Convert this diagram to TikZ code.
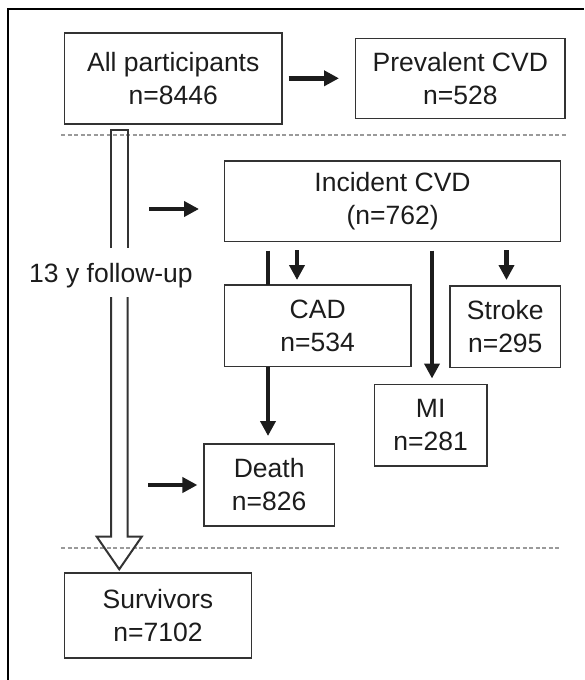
\documentclass[tikz,border=0pt]{standalone}
\usepackage{fontspec}
\setmainfont{Liberation Sans}
\usetikzlibrary{arrows.meta,calc}
\definecolor{txt}{HTML}{1C1C1C}
\definecolor{edge}{HTML}{333333}
\definecolor{dash}{HTML}{9A9A9A}
\tikzset{
  box/.style={draw=edge, line width=1.5pt, rectangle, inner sep=0pt, outer sep=0pt,
    align=center, text=txt, font=\fontsize{26.5}{33}\selectfont},
  thick arr/.style={draw=txt, line width=4.5pt, -{Triangle[length=15pt,width=15pt]}},
  thick line/.style={draw=txt, line width=4.5pt},
  hollow/.style={draw=edge, line width=2pt, line join=miter},
  sepline/.style={draw=dash, line width=1.5pt, dash pattern=on 4pt off 2.5pt},
}
\begin{document}
\begin{tikzpicture}[x=1pt,y=-1pt]
\useasboundingbox (0,0) rectangle (584,680);
% outer frame
\draw[black, line width=2.5pt] (8,680) -- (8,9) -- (584,9);

% boxes
\node[box, minimum width=217.5pt, minimum height=91pt] (all) at (173.25,78.5) {All participants\\n=8446};
\node[box, minimum width=209.3pt, minimum height=80pt] (prev) at (460.35,78.3) {Prevalent CVD\\n=528};
\node[box, minimum width=335.9pt, minimum height=80.7pt] (inc) at (392.55,201.35) {Incident CVD\\(n=762)};
\node[box, minimum width=186.2pt, minimum height=81.7pt] (cad) at (317.7,325.85) {CAD\\n=534};
\node[box, minimum width=110.5pt, minimum height=81.7pt] (stroke) at (505.25,326.85) {Stroke\\n=295};
\node[box, minimum width=112.7pt, minimum height=81.5pt] (mi) at (430.65,425.25) {MI\\n=281};
\node[box, minimum width=130.3pt, minimum height=82pt] (death) at (269.15,485) {Death\\n=826};
\node[box, minimum width=186.9pt, minimum height=85pt] (surv) at (157.95,615.5) {Survivors\\n=7102};
\node[text=txt, font=\fontsize{26.5}{33}\selectfont, inner sep=0pt] (fu) at (111,276) {13 y follow-up};

% dashed separators
\coordinate (d1a) at (61,135);
\coordinate (d1b) at (566,135);
\coordinate (d2a) at (61,548);
\coordinate (d2b) at (561,548);
\draw[sepline] (d1a) -- (d1b);
\draw[sepline] (d2a) -- (d2b);

% hollow follow-up arrow
\coordinate (ft) at (119.25,130);
\coordinate (ftip) at (119.25,569.3);
\draw[hollow] ($(ft)+(-8.25,118)$) -- ($(ft)+(-8.25,0)$) -- ($(ft)+(8.25,0)$) -- ($(ft)+(8.25,118)$);
\draw[hollow] ($(ft)+(-8.25,167)$) -- ($(ftip)+(-8.25,-32.6)$) -- ($(ftip)+(-22.5,-32.6)$) -- (ftip)
  -- ($(ftip)+(22.5,-32.6)$) -- ($(ftip)+(8.25,-32.6)$) -- ($(ft)+(8.25,167)$);

% arrows
\draw[thick arr, shorten <=6.6pt, shorten >=16.7pt] (all.east |- prev.west) -- (prev.west);
\coordinate (a1) at (149,209);
\draw[thick arr, shorten >=25.6pt] (a1) -- (inc.west |- a1);
\coordinate (a2) at (148,485);
\draw[thick arr, shorten >=6.6pt] (a2) -- (death.west |- a2);

\draw[thick line, shorten <=9pt] (inc.south -| 268,0) -- (cad.north -| 268,0);
\draw[thick arr, shorten >=8pt] (cad.south -| 268,0) -- (death.north -| 268,0);
\draw[thick arr, shorten <=8.5pt, shorten >=5pt] (inc.south -| 297,0) -- (cad.north -| 297,0);
\draw[thick arr, shorten <=9pt, shorten >=6pt] (inc.south -| 432,0) -- (mi.north -| 432,0);
\draw[thick arr, shorten <=8.5pt, shorten >=6pt] (inc.south -| 506.5,0) -- (stroke.north -| 506.5,0);
\end{tikzpicture}
\end{document}
